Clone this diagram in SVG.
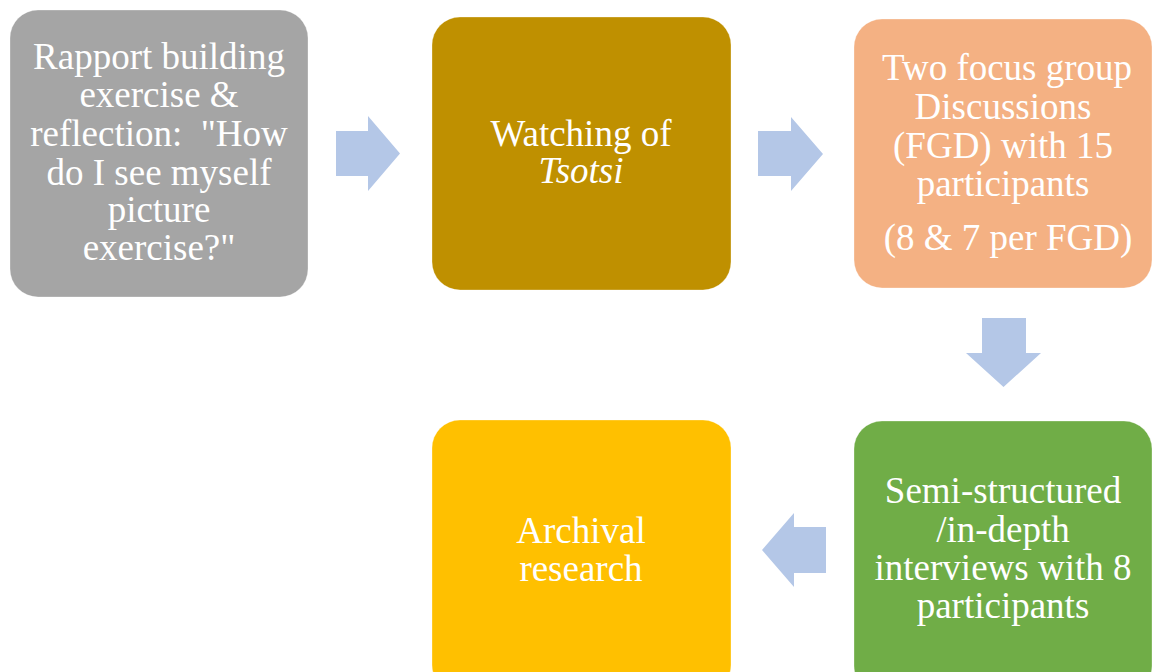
<svg xmlns="http://www.w3.org/2000/svg" width="1152" height="672" viewBox="0 0 1152 672">
<style>
.box{stroke:#ffffff;stroke-opacity:0.3;stroke-width:1}
.t{font-family:"Liberation Serif","Times New Roman",serif;font-size:37px;fill:#ffffff;text-anchor:middle;white-space:pre}
.arr{fill:#B4C7E7}
</style>
<rect width="1152" height="672" fill="#ffffff"/>
<g id="connectors">
<polygon class="arr" points="336,131 368,131 368,116 400,153.5 368,191 368,176 336,176"/>
<polygon class="arr" points="758,131 791,131 791,117 823,154 791,191 791,176 758,176"/>
<polygon class="arr" points="982,318 1026,318 1026,353 1041,353 1003.5,387 966,353 982,353"/>
<polygon class="arr" points="826,527 794,527 794,513 762,550 794,587 794,573 826,573"/>
</g>
<g id="node1">
<rect class="box" x="10" y="10" width="298" height="287" rx="28" fill="#A5A5A5"/>
<text class="t" x="159" y="69">Rapport building</text>
<text class="t" x="159" y="107">exercise &amp;</text>
<text class="t" x="159" y="146">reflection:  "How</text>
<text class="t" x="159" y="185">do I see myself</text>
<text class="t" x="159" y="222">picture</text>
<text class="t" x="159" y="260">exercise?"</text>
</g>
<g id="node2">
<rect class="box" x="432" y="17" width="299" height="273" rx="28" fill="#BF9000"/>
<text class="t" x="581" y="146">Watching of</text>
<text class="t" x="581" y="183" font-style="italic">Tsotsi</text>
</g>
<g id="node3">
<rect class="box" x="854" y="19" width="298" height="269" rx="28" fill="#F4B183"/>
<text class="t" x="1007" y="80">Two focus group</text>
<text class="t" x="1003" y="119">Discussions</text>
<text class="t" x="1003" y="158">(FGD) with 15</text>
<text class="t" x="1003" y="196">participants</text>
<text class="t" x="1008" y="250">(8 &amp; 7 per FGD)</text>
</g>
<g id="node4">
<rect class="box" x="854" y="421" width="298" height="273" rx="28" fill="#70AD47"/>
<text class="t" x="1003" y="503">Semi-structured</text>
<text class="t" x="1003" y="542">/in-depth</text>
<text class="t" x="1003" y="580">interviews with 8</text>
<text class="t" x="1003" y="618">participants</text>
</g>
<g id="node5">
<rect class="box" x="432" y="420" width="299" height="273" rx="28" fill="#FFC000"/>
<text class="t" x="581" y="543">Archival</text>
<text class="t" x="581" y="581">research</text>
</g>
</svg>
